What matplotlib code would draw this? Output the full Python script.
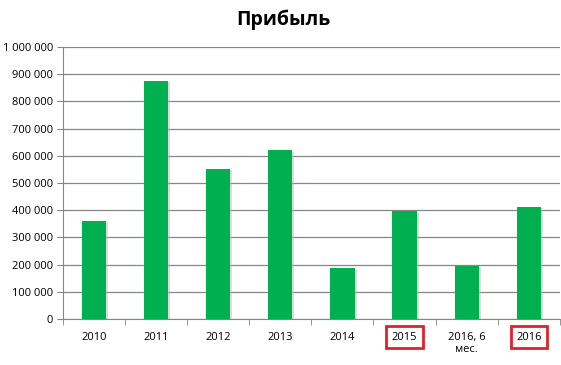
import matplotlib.pyplot as plt
import matplotlib.patheffects as pe
from matplotlib.ticker import FuncFormatter

categories = ["2010", "2011", "2012", "2013", "2014", "2015", "2016, 6\nмес.", "2016"]
profit = [362000, 875000, 552000, 621000, 187000, 397000, 195000, 412000]
highlighted = ["2015", "2016"]

plt.rcParams["font.family"] = ["Open Sans", "DejaVu Sans"]

fig = plt.figure(figsize=(5.61, 3.65), dpi=100)
ax = fig.add_axes([0.112, 0.126, 0.886, 0.745])

x = list(range(len(categories)))
bars = ax.bar(x, profit, width=0.39, color="#00B050", zorder=3)
for bar in bars:
    bar.set_path_effects([pe.SimplePatchShadow(offset=(1.5, -1), shadow_rgbFace="#bbbbbb", alpha=0.5), pe.Normal()])

ax.set_ylim(0, 1000000)
ax.set_xlim(-0.5, len(categories) - 0.5)
ax.set_yticks(range(0, 1000001, 100000))
ax.yaxis.set_major_formatter(FuncFormatter(lambda v, _: f"{int(v):,}".replace(",", " ")))
ax.grid(axis="y", color="#868686", linewidth=0.9, zorder=0)

ax.set_xticks(x)
ax.set_xticklabels(categories)
ax.set_xticks([i - 0.5 for i in range(len(categories) + 1)], minor=True)
ax.tick_params(axis="x", which="major", length=0, labelsize=8, pad=9)
ax.tick_params(axis="x", which="minor", length=4, color="#868686")
ax.tick_params(axis="y", length=4, color="#868686", labelsize=8, pad=3)

for label in ax.get_xticklabels():
    label.set_verticalalignment("top")
    if label.get_text() in highlighted:
        label.set_bbox(dict(boxstyle="square,pad=0.5", facecolor="white", edgecolor="#e0202a", linewidth=2))

for side in ["top", "right"]:
    ax.spines[side].set_visible(False)
ax.spines["left"].set_color("#868686")
ax.spines["bottom"].set_color("#868686")

fig.suptitle("Прибыль", x=0.505, y=0.975, fontsize=14, fontweight="bold")

fig.savefig("out.png", dpi=100)
